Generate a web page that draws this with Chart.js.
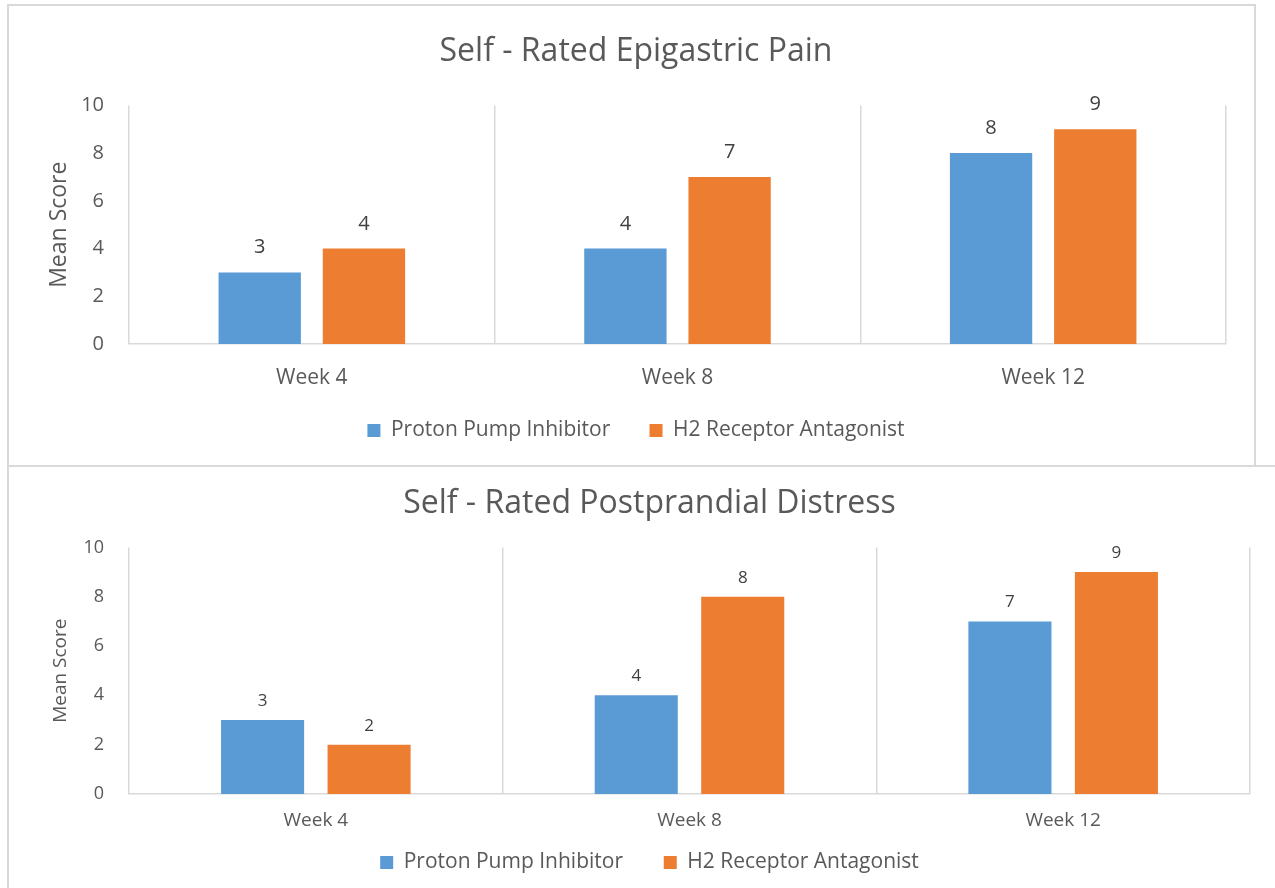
<!DOCTYPE html>
<html>
<head>
<meta charset="utf-8">
<script src="https://cdn.jsdelivr.net/npm/chart.js@4/dist/chart.umd.min.js"></script>
<style>
  body { margin: 0; background: #fff; width: 1275px; height: 888px; overflow: hidden; position: relative; }
  .box { position: absolute; border: 2px solid #d9d9d9; box-sizing: border-box; background: #fff; }
  #box1 { left: 7px; top: 4px; width: 1249px; height: 463px; }
  #box2 { left: 7px; top: 465px; width: 1290px; height: 440px; }
  canvas { position: absolute; }
  #c1 { left: 9px; top: 6px; }
  #c2 { left: 9px; top: 467px; }
</style>
</head>
<body>
<div class="box" id="box1"></div>
<div class="box" id="box2"></div>
<canvas id="c1" width="1245" height="459"></canvas>
<canvas id="c2" width="1266" height="421"></canvas>
<script>
// chart values
var weeks = ['Week 4', 'Week 8', 'Week 12'];
var seriesNames = ['Proton Pump Inhibitor', 'H2 Receptor Antagonist'];
var painPPI = [3, 4, 8];
var painH2 = [4, 7, 9];
var distressPPI = [3, 4, 7];
var distressH2 = [2, 8, 9];
var yTicks = [0, 2, 4, 6, 8, 10];

var blue = '#5b9bd5', orange = '#ed7d31', grey = '#595959', line = '#d9d9d9';
var fam = '"Open Sans", "Liberation Sans", sans-serif';

// number above each bar
var barValues = {
  id: 'barValues',
  afterDatasetsDraw: function(chart, args, opts) {
    var ctx = chart.ctx;
    ctx.save();
    ctx.fillStyle = '#404040';
    ctx.font = opts.size + 'px ' + fam;
    ctx.textAlign = 'center';
    ctx.textBaseline = 'alphabetic';
    chart.data.datasets.forEach(function(ds, i) {
      chart.getDatasetMeta(i).data.forEach(function(bar, j) {
        ctx.fillText(ds.data[j], bar.x, bar.y - opts.gap);
      });
    });
    ctx.restore();
  }
};

function makeChart(id, title, a, b, s) {
  return new Chart(id, {
    type: 'bar',
    data: {
      labels: weeks,
      datasets: [
        { label: seriesNames[0], data: a, backgroundColor: blue },
        { label: seriesNames[1], data: b, backgroundColor: orange }
      ]
    },
    options: {
      responsive: false,
      animation: false,
      categoryPercentage: s.cat,
      barPercentage: s.bar,
      layout: { padding: s.pad },
      plugins: {
        title: { display: true, text: title, color: grey,
          font: { family: fam, size: s.title, weight: 'normal' },
          padding: s.titlePad },
        legend: { position: 'bottom',
          labels: { color: grey, boxWidth: s.box, boxHeight: s.box, padding: s.legPad,
            font: { family: fam, size: s.legend },
            generateLabels: function(chart) {
              var items = Chart.defaults.plugins.legend.labels.generateLabels(chart);
              items[0].text += s.legGap;
              return items;
            } } },
        tooltip: { enabled: false },
        barValues: { size: s.value, gap: s.gap }
      },
      scales: {
        x: {
          afterFit: function(axis) { axis.height = s.xH; },
          grid: { color: line, lineWidth: 1.5, offset: true, drawTicks: false },
          border: { color: line, width: 1.5 },
          ticks: { color: grey, padding: s.xTickPad, font: { family: fam, size: s.xtick } }
        },
        y: {
          min: 0, max: 10,
          afterBuildTicks: function(axis) { axis.ticks = yTicks.map(function(v) { return { value: v }; }); },
          afterFit: function(axis) { axis.width = s.yW; },
          grid: { display: false },
          border: { display: false },
          ticks: { color: grey, padding: s.yTickPad, font: { family: fam, size: s.ytick } },
          title: { display: true, text: 'Mean Score', color: grey,
            font: { family: fam, size: s.ytitle }, padding: { top: 0, bottom: 0 } }
        }
      }
    },
    plugins: [barValues]
  });
}

makeChart('c1', 'Self - Rated Epigastric Pain', painPPI, painH2, {
  cat: 0.57, bar: 0.79,
  pad: { left: 37, right: 28, top: 0, bottom: 14 },
  title: 32, titlePad: { top: 27, bottom: 34 },
  box: 13, legPad: 12, legend: 21, legGap: '     ',
  value: 20, gap: 19,
  xH: 64, xTickPad: 21, xtick: 21,
  yW: 83, yTickPad: 17, ytick: 20,
  ytitle: 23
});

makeChart('c2', 'Self - Rated Postprandial Distress', distressPPI, distressH2, {
  cat: 0.57, bar: 0.78,
  pad: { left: 40, right: 25, top: 0, bottom: 5 },
  title: 32, titlePad: { top: 18, bottom: 24 },
  box: 13, legPad: 8, legend: 21, legGap: '      ',
  value: 17, gap: 14,
  xH: 50, xTickPad: 15, xtick: 19,
  yW: 80, yTickPad: 17, ytick: 18,
  ytitle: 19
});
</script>
</body>
</html>
